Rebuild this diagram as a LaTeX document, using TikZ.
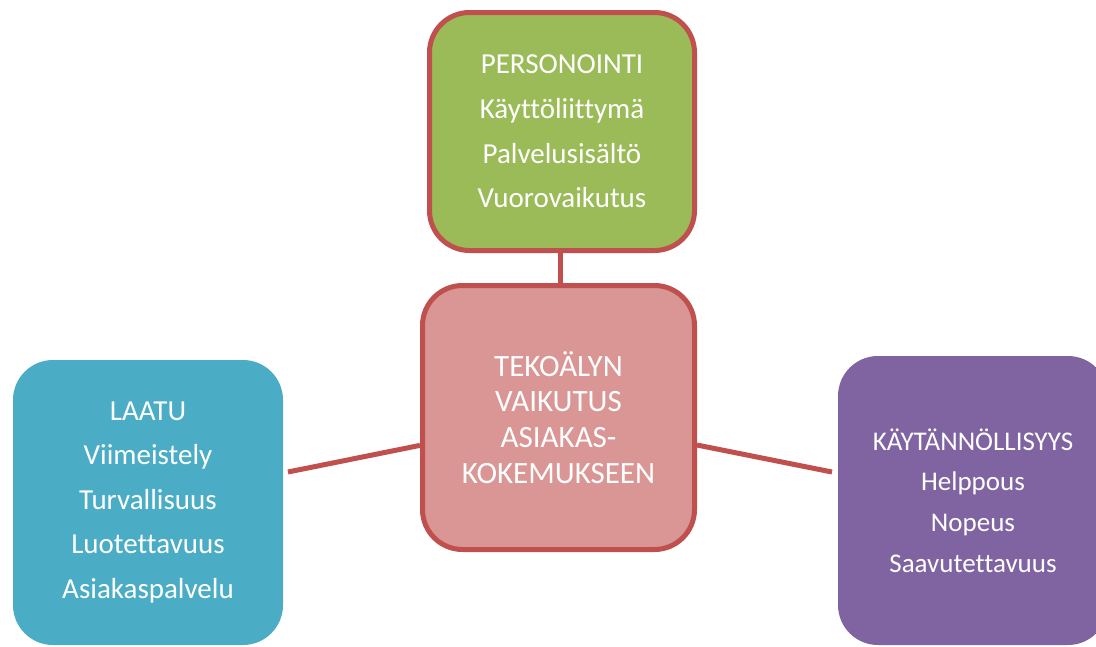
\documentclass[tikz,border=0pt]{standalone}
\usepackage{fontspec}
\setmainfont{Carlito}[Ligatures=NoCommon]
\definecolor{cred}{HTML}{C0504D}
\definecolor{cgreen}{HTML}{9BBB59}
\definecolor{cpink}{HTML}{D99694}
\definecolor{cblue}{HTML}{4BACC6}
\definecolor{cpurple}{HTML}{8064A2}
\begin{document}
\begin{tikzpicture}[x=1pt,y=-1pt,
  box/.style={rounded corners=40pt, align=center, text=white, inner sep=0pt},
  bordered/.style={box, draw=cred, line width=5pt},
  conn/.style={draw=cred, line width=5pt}]
\useasboundingbox (0,0) rectangle (1096,646);
\coordinate (l1) at (288,472);
\coordinate (r1) at (832,472);
\node[bordered, fill=cpink, minimum width=272pt, minimum height=264pt,
  font=\fontsize{31}{35.7}\selectfont] (pink) at (558.5,417.5)
  {TEKOÄLYN\\VAIKUTUS\\ASIAKAS-\\KOKEMUKSEEN};
\node[bordered, fill=cgreen, minimum width=265pt, minimum height=238pt,
  font=\fontsize{29}{44.7}\selectfont] (green) at (562,131.5)
  {PERSONOINTI\\Käyttöliittymä\\Palvelusisältö\\Vuorovaikutus};
\node[box, fill=cblue, minimum width=270pt, minimum height=285pt,
  font=\fontsize{29}{44.5}\selectfont] (blue) at (148,502.5)
  {LAATU\\Viimeistely\\Turvallisuus\\Luotettavuus\\Asiakaspalvelu};
\node[box, fill=cpurple, minimum width=270pt, minimum height=289pt,
  font=\fontsize{27}{40.7}\selectfont] (purple) at (973,500.5)
  {KÄYTÄNNÖLLISYYS\\Helppous\\Nopeus\\Saavutettavuus};
\draw[conn] (green.south -| 560,0) -- (pink.north -| 560,0);
\draw[conn] (l1) -- (pink);
\draw[conn] (r1) -- (pink);
\end{tikzpicture}
\end{document}
